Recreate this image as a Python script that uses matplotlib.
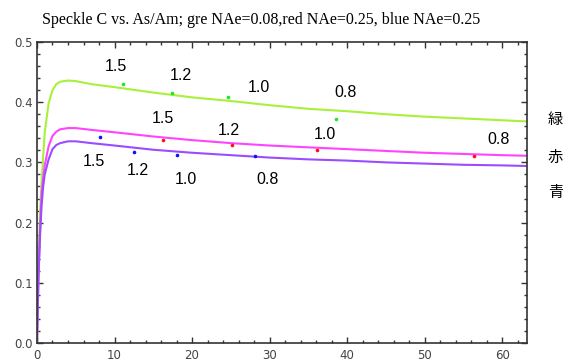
import numpy as np
import matplotlib
matplotlib.use("Agg")
import matplotlib.pyplot as plt
from matplotlib.ticker import MultipleLocator, FormatStrFormatter

# curves
curve_x = [0, 0.2, 0.4, 0.6, 0.8, 1.0, 1.5, 2.0, 2.5, 3.0, 4.0, 5.0, 7.0, 10, 15, 20,
           25, 30, 35, 40, 45, 50, 55, 60, 63.2]
green_y = [0, 0.14, 0.22, 0.27, 0.31, 0.35, 0.398, 0.420, 0.430, 0.434, 0.436, 0.435,
           0.430, 0.425, 0.416, 0.408, 0.402, 0.395, 0.389, 0.385, 0.380, 0.376, 0.373,
           0.370, 0.368]
magenta_y = [0, 0.12, 0.19, 0.25, 0.275, 0.295, 0.327, 0.344, 0.351, 0.355, 0.357, 0.357,
             0.354, 0.350, 0.343, 0.337, 0.332, 0.328, 0.325, 0.322, 0.319, 0.316, 0.314,
             0.312, 0.311]
purple_y = [0, 0.11, 0.18, 0.23, 0.26, 0.28, 0.305, 0.322, 0.329, 0.332, 0.335, 0.335,
            0.332, 0.328, 0.321, 0.316, 0.312, 0.308, 0.305, 0.303, 0.300, 0.298, 0.296,
            0.295, 0.294]

# measured points
green_px = [11.1, 17.4, 24.7, 38.6]
green_py = [0.431, 0.416, 0.409, 0.372]
red_px = [16.2, 25.2, 36.1, 56.4]
red_py = [0.338, 0.329, 0.321, 0.310]
blue_px = [8.15, 12.5, 18.0, 28.1]
blue_py = [0.342, 0.318, 0.312, 0.310]

# NA labels
na_labels = ["1.5", "1.2", "1.0", "0.8"]
green_lx = [10.2, 18.5, 28.6, 39.8]
green_ly = [0.460, 0.444, 0.424, 0.416]
red_lx = [16.3, 24.7, 37.1, 59.5]
red_ly = [0.373, 0.353, 0.346, 0.338]
blue_lx = [7.3, 13.0, 19.2, 29.7]
blue_ly = [0.301, 0.286, 0.272, 0.272]

side_labels = ["緑", "赤", "青"]
title = "Speckle C vs. As/Am; gre NAe=0.08,red NAe=0.25, blue NAe=0.25"

fig = plt.figure(figsize=(5.63, 3.61), dpi=100)
ax = fig.add_axes([0.0657, 0.0499, 0.936 - 0.0657, 0.8837 - 0.0499])

ax.plot(curve_x, green_y, color="#a8f03c", lw=1.5)
ax.plot(curve_x, magenta_y, color="#ff44ff", lw=1.5)
ax.plot(curve_x, purple_y, color="#9a4cff", lw=1.5)

ax.plot(green_px, green_py, "o", color="#22e622", ms=2.6, mew=0)
ax.plot(red_px, red_py, "o", color="#ff1010", ms=2.6, mew=0)
ax.plot(blue_px, blue_py, "o", color="#1010ff", ms=2.6, mew=0)

for lx, ly, lab in zip(green_lx + red_lx + blue_lx, green_ly + red_ly + blue_ly, na_labels * 3):
    ax.text(lx, ly, lab, ha="center", va="center", fontsize=11.5, family="Liberation Sans")

ax.set_xlim(0, 63.2)
ax.set_ylim(0, 0.5)
ax.xaxis.set_major_locator(MultipleLocator(10))
ax.xaxis.set_minor_locator(MultipleLocator(2))
ax.yaxis.set_major_locator(MultipleLocator(0.1))
ax.yaxis.set_minor_locator(MultipleLocator(0.02))
ax.yaxis.set_major_formatter(FormatStrFormatter("%.1f"))
ax.tick_params(which="both", direction="in", top=True, right=True, color="#333333",
               labelsize=8.5, labelcolor="#444444")
ax.tick_params(which="major", length=4.5, width=1.0)
ax.tick_params(which="minor", length=2.5, width=1.0)
ax.tick_params(axis="y", pad=3)
ax.tick_params(axis="x", pad=4)
for s in ax.spines.values():
    s.set_color("#333333")
    s.set_linewidth(1.2)

fig.text(261 / 563, 1 - 20 / 361, title, ha="center", va="center", fontsize=11.5,
         family="Liberation Serif")

for lab, py in zip(side_labels, [120, 157, 193]):
    fig.text(548 / 563, 1 - py / 361, lab, ha="left", va="center", fontsize=11,
             family=["Noto Sans CJK JP", "DejaVu Sans"])

fig.savefig("out.png", dpi=100)
